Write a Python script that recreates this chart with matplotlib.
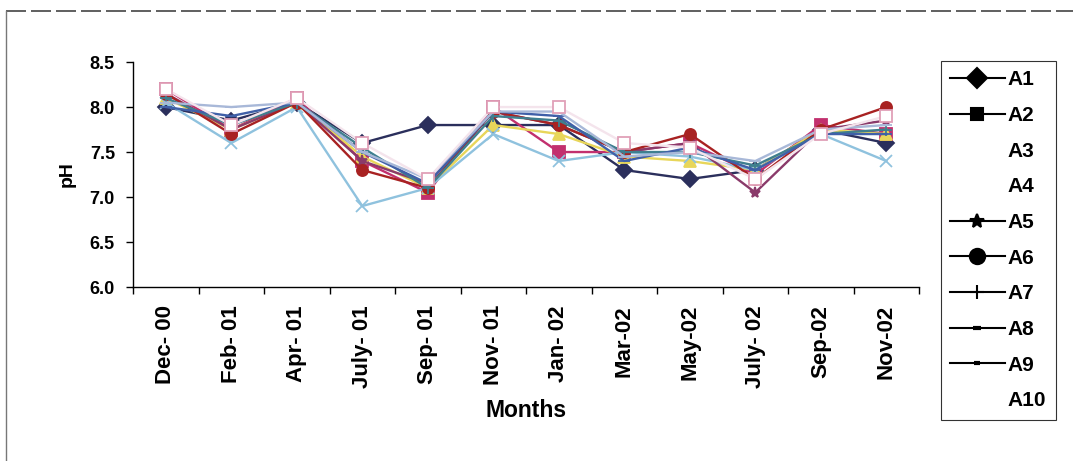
import matplotlib.pyplot as plt
from matplotlib.lines import Line2D

plt.rcParams['font.family'] = ['Liberation Sans', 'DejaVu Sans']
plt.rcParams['font.weight'] = 'bold'

months = ["Dec- 00", "Feb- 01", "Apr- 01", "July- 01", "Sep- 01", "Nov- 01",
          "Jan- 02", "Mar-02", "May-02", "July- 02", "Sep-02", "Nov-02"]

A1 = [8.00, 7.85, 8.05, 7.60, 7.80, 7.80, 7.80, 7.30, 7.20, 7.30, 7.75, 7.60]
A2 = [8.20, 7.75, 8.10, 7.40, 7.05, 8.00, 7.50, 7.50, 7.60, 7.25, 7.80, 7.70]
A3 = [8.10, 7.75, 8.05, 7.45, 7.10, 7.80, 7.70, 7.45, 7.40, 7.30, 7.75, 7.70]
A4 = [8.05, 7.60, 8.00, 6.90, 7.10, 7.70, 7.40, 7.50, 7.45, 7.30, 7.70, 7.40]
A5 = [8.15, 7.75, 8.05, 7.40, 7.15, 7.95, 7.80, 7.50, 7.60, 7.05, 7.75, 7.85]
A6 = [8.15, 7.70, 8.05, 7.30, 7.10, 7.95, 7.80, 7.50, 7.70, 7.20, 7.75, 8.00]
A7 = [8.10, 7.80, 8.05, 7.55, 7.10, 7.90, 7.85, 7.50, 7.50, 7.35, 7.70, 7.75]
A8 = [8.00, 7.90, 8.05, 7.50, 7.15, 7.95, 7.90, 7.40, 7.55, 7.30, 7.70, 7.70]
A9 = [8.05, 8.00, 8.05, 7.50, 7.20, 7.95, 7.95, 7.45, 7.50, 7.40, 7.75, 7.80]
A10 = [8.20, 7.80, 8.10, 7.60, 7.20, 8.00, 8.00, 7.60, 7.55, 7.20, 7.70, 7.90]

names = ["A1", "A2", "A3", "A4", "A5", "A6", "A7", "A8", "A9", "A10"]
series = [A1, A2, A3, A4, A5, A6, A7, A8, A9, A10]

# washed-out scan colours of the old Excel palette
colors = ['#2b2f5c', '#c2306e', '#e8d65a', '#8fc2de', '#8a3a6a',
          '#a82222', '#3f7f8f', '#4060a8', '#a8b8d8', '#ffffff']
markers = ['D', 's', '^', 'x', '*', 'o', '+', '_', '_', 's']
edges = ['#2b2f5c', '#c2306e', '#e8d65a', '#8fc2de', '#8a3a6a',
         '#a82222', '#3f7f8f', '#4060a8', '#a8b8d8', '#e0a0b8']
leg_sizes = [10, 8, 0, 0, 10, 11, 10, 6, 4, 0]

fig = plt.figure(figsize=(10.73, 4.61), dpi=100)
ax = fig.add_axes([0.124, 0.3774, 0.7325, 0.488])

x = list(range(len(months)))
for s, c, m, e in zip(series, colors, markers, edges):
    lc = c if c != '#ffffff' else '#f4e4ec'
    ax.plot(x, s, color=lc, lw=1.7, marker=m, markersize=8,
            markerfacecolor=c, markeredgecolor=e, markeredgewidth=1.3)

ax.set_xlim(-0.5, 11.5)
ax.set_ylim(6.0, 8.5)
ax.set_yticks([6.0, 6.5, 7.0, 7.5, 8.0, 8.5])
ax.set_yticklabels(["6.0", "6.5", "7.0", "7.5", "8.0", "8.5"], fontsize=13, fontweight='bold')
ax.set_xticks([i - 0.5 for i in range(13)], minor=False)
ax.set_xticklabels([])
ax.set_xticks(x, minor=True)
ax.set_xticklabels(months, minor=True, rotation=90, fontsize=16, fontweight='bold')
ax.tick_params(axis='x', which='minor', length=0, pad=13)
ax.tick_params(axis='x', which='major', direction='out', length=5, width=1)
ax.tick_params(axis='y', direction='out', length=5, width=1, pad=8)
for sp in ['top', 'right']:
    ax.spines[sp].set_visible(False)
ax.spines['left'].set_linewidth(1)
ax.spines['bottom'].set_linewidth(1)

ax.set_ylabel("pH", fontsize=14, fontweight='bold', labelpad=10)
fig.text(0.490, 0.11, "Months", ha='center', va='center', fontsize=16.5, fontweight='heavy')

# legend drawn in black like the printed original
handles = []
for n, m, ms in zip(names, markers, leg_sizes):
    if ms == 0:
        handles.append(Line2D([], [], color='white', lw=0))
    else:
        mew = 3 if m == '_' else 1.5
        handles.append(Line2D([], [], color='black', lw=1.5, marker=m,
                              markersize=ms, markerfacecolor='black',
                              markeredgecolor='black', markeredgewidth=mew))
leg = fig.legend(handles, names, loc='upper left', bbox_to_anchor=(0.877, 0.868),
                 frameon=True, fancybox=False, edgecolor='black', fontsize=15,
                 handlelength=2.6, handletextpad=0.15, labelspacing=0.8,
                 borderpad=0.45, borderaxespad=0)
leg.get_frame().set_linewidth(0.8)
for t in leg.get_texts():
    t.set_fontweight('bold')

# outer chart border (top and left survive in the scan)
fig.add_artist(Line2D([0.006, 1.0], [0.976, 0.976], color='#444444', lw=1.2,
                      ls=(0, (12, 3)), transform=fig.transFigure))
fig.add_artist(Line2D([0.006, 0.006], [0.976, 0.0], color='#777777', lw=1,
                      transform=fig.transFigure))

fig.savefig("out.png", dpi=100)
